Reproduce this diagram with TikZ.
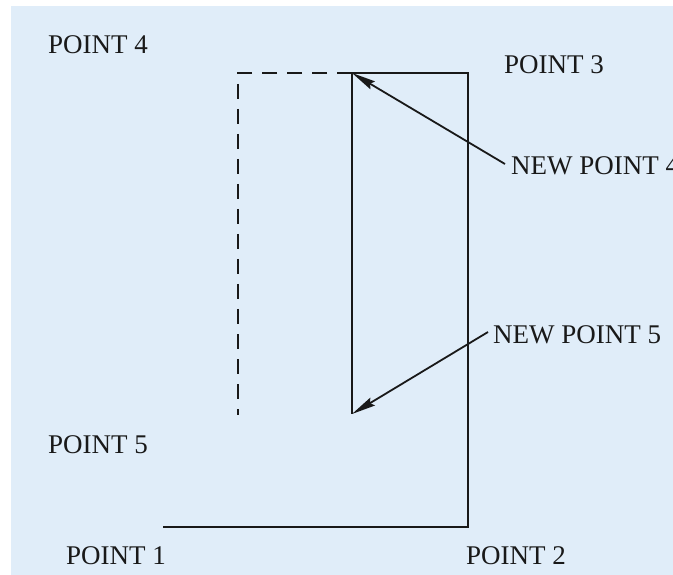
\documentclass[tikz,border=0pt]{standalone}
\usepackage{fontspec}
\setmainfont{Liberation Serif}
\usetikzlibrary{arrows.meta}
\definecolor{MyBackground}{RGB}{224, 237, 249}

\begin{document}
\begin{tikzpicture}[
  x=1pt, y=-1pt,
  lab/.style={font=\fontsize{27}{30}\selectfont, text=black!90, inner sep=0pt},
  edge/.style={draw=black!90, line width=1.8pt},
  ghost/.style={draw=black!90, line width=1.8pt, dash pattern=on 15pt off 10pt},
  ar/.style={-{Stealth[length=24pt, width=9pt, inset=3pt]}, draw=black!90, line width=1.8pt}
]
\useasboundingbox (0,0) rectangle (673,575);
\fill[MyBackground] (11,6) rectangle (673,575);

% path corners
\coordinate (p1) at (163,527);
\coordinate (p2) at (468,527);
\coordinate (p3) at (468,73);
\coordinate (n4) at (352,73);
\coordinate (n5) at (352,414);
\coordinate (o4) at (238,73);
\coordinate (o5) at (238,415);

\draw[edge] (p1) -- (p2) -- (p3) -- (n4) -- (n5);
\draw[ghost] (n4) -- (o4) -- (o5);

\node[lab] (lp4) at (98,45)   {POINT 4};
\node[lab] (lp3) at (554,65)  {POINT 3};
\node[lab] (lp5) at (98,445)  {POINT 5};
\node[lab] (lp1) at (116,556) {POINT 1};
\node[lab] (lp2) at (516,556) {POINT 2};
\node[lab, anchor=west] (ln4) at (511,166) {NEW POINT 4};
\node[lab, anchor=west] (ln5) at (493,335) {NEW POINT 5};

\draw[ar] ([xshift=-6pt,yshift=2pt]ln4.west) -- (n4);
\draw[ar] ([xshift=-5pt,yshift=3pt]ln5.west) -- (n5);
\end{tikzpicture}
\end{document}
